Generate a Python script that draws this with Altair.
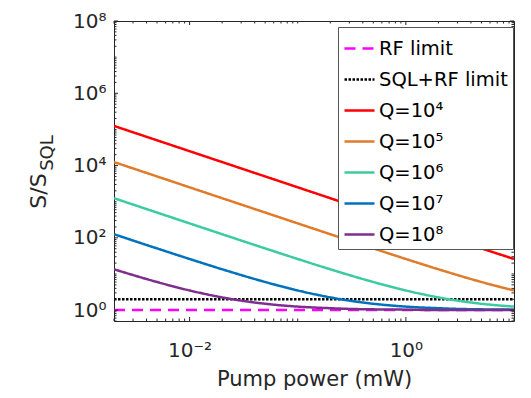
import math
import altair as alt
import pandas as pd

# ---------------- data ----------------
power_mw = [0.002, 0.003, 0.005, 0.01, 0.02, 0.03, 0.05, 0.1, 0.2, 0.3, 0.5, 1, 2, 3, 5, 10]
s_q1e4 = [125000, 83300, 50000, 25000, 12500, 8330, 5000, 2500, 1250, 834, 501, 251, 126, 84.3, 51, 26]
s_q1e5 = [12500, 8330, 5000, 2500, 1250, 834, 501, 251, 126, 84.3, 51, 26, 13.5, 9.33, 6.0, 3.5]
s_q1e6 = [1250, 834, 501, 251, 126, 84.3, 51, 26, 13.5, 9.33, 6.0, 3.5, 2.25, 1.83, 1.5, 1.25]
s_q1e7 = [126, 84.3, 51, 26, 13.5, 9.33, 6.0, 3.5, 2.25, 1.83, 1.5, 1.25, 1.13, 1.08, 1.05, 1.03]
s_q1e8 = [13.5, 9.33, 6.0, 3.5, 2.25, 1.83, 1.5, 1.25, 1.13, 1.08, 1.05, 1.03, 1.01, 1.01, 1.005, 1.003]

limit_x = [0.002, 10]
rf_limit = [1, 1]
sql_rf_limit = [2, 2]

series_names = ["RF limit", "SQL+RF limit", "Q=10⁴", "Q=10⁵", "Q=10⁶", "Q=10⁷", "Q=10⁸"]
series_colors = ["#FF00FF", "#000000", "#FF0000", "#DE7B2C", "#3CCBA0", "#0072BD", "#7E2F8E"]
series_dashes = [[11, 7], [2.5, 1.5], [1, 0], [1, 0], [1, 0], [1, 0], [1, 0]]

x_domain = [0.002, 10]
y_domain = [0.5, 1e8]
x_tick_values = [0.01, 1]
x_tick_labels = ["10⁻²", "10⁰"]
y_tick_values = [1, 1e2, 1e4, 1e6, 1e8]
y_tick_labels = ["10⁰", "10²", "10⁴", "10⁶", "10⁸"]
x_major_ticks = [0.01, 1]
x_minor_ticks = [k * 10.0 ** n for n in range(-3, 2) for k in range(1, 10)
                 if x_domain[0] <= k * 10.0 ** n <= x_domain[1] and k * 10.0 ** n not in x_major_ticks]
y_major_ticks = [1, 1e2, 1e4, 1e6, 1e8]
y_minor_ticks = [k * 10.0 ** n for n in range(-1, 9) for k in range(1, 10)
                 if y_domain[0] <= k * 10.0 ** n <= y_domain[1] and k * 10.0 ** n not in y_major_ticks]

# ---------------- tables ----------------
curve_rows = []
for name, vals in zip(series_names[2:], [s_q1e4, s_q1e5, s_q1e6, s_q1e7, s_q1e8]):
    for p, v in zip(power_mw, vals):
        curve_rows.append({"series": name, "power": p, "s": v})
curves = pd.DataFrame(curve_rows)

limit_rows = []
for name, vals in zip(series_names[:2], [rf_limit, sql_rf_limit]):
    for p, v in zip(limit_x, vals):
        limit_rows.append({"series": name, "power": p, "s": v})
limits = pd.DataFrame(limit_rows)

W, H = 400, 300
FONT = "DejaVu Sans"
AXC = "#262626"

xscale = alt.Scale(type="log", domain=x_domain, nice=False)
yscale = alt.Scale(type="log", domain=y_domain, nice=False)


def label_expr(values, labels):
    expr = "''"
    for v, l in reversed(list(zip(values, labels))):
        expr = f"(abs(log(datum.value)/LN10 - ({math.log10(v)})) < 0.01 ? '{l}' : {expr})"
    return expr


legend = alt.Legend(
    title=None, orient="none", legendX=224, legendY=6,
    symbolType="stroke", symbolSize=900, symbolStrokeWidth=2.5,
    labelFontSize=19.5, labelFont=FONT, labelColor="#000000", labelOffset=3,
    strokeColor="#555555", fillColor="#FFFFFF", padding=5, rowPadding=5,
    labelLimit=300,
)
color_enc = alt.Color("series:N", scale=alt.Scale(domain=series_names, range=series_colors), legend=legend)
dash_enc = alt.StrokeDash("series:N", scale=alt.Scale(domain=series_names, range=series_dashes), legend=legend)

x_axis = alt.Axis(
    values=x_tick_values, labelExpr=label_expr(x_tick_values, x_tick_labels),
    ticks=False, domain=False, grid=False, labelFontSize=20, labelFont=FONT, labelColor=AXC,
    labelPadding=19, title="Pump power (mW)", titleFontSize=21, titleFont=FONT,
    titleFontWeight="normal", titleColor=AXC, titlePadding=8, labelFlush=False,
)
y_axis = alt.Axis(
    values=y_tick_values, labelExpr=label_expr(y_tick_values, y_tick_labels),
    ticks=False, domain=False, grid=False, labelFontSize=20, labelFont=FONT, labelColor=AXC,
    labelPadding=8, title=None, labelFlush=False,
)

limit_layer = alt.Chart(limits).mark_line(strokeWidth=2.5, clip=True).encode(
    x=alt.X("power:Q", scale=xscale, axis=x_axis),
    y=alt.Y("s:Q", scale=yscale, axis=y_axis),
    color=color_enc, strokeDash=dash_enc, detail="series:N",
)
curve_layer = alt.Chart(curves).mark_line(strokeWidth=2.5, clip=True, interpolate="monotone").encode(
    x=alt.X("power:Q", scale=xscale, axis=x_axis),
    y=alt.Y("s:Q", scale=yscale, axis=y_axis),
    color=color_enc, strokeDash=dash_enc, detail="series:N",
)


def x_tick_layer(values, length, top):
    d = pd.DataFrame({"power": values})
    y0, y1 = (0, length) if top else (H, H - length)
    return alt.Chart(d).mark_rule(color=AXC, strokeWidth=1).encode(
        x=alt.X("power:Q", scale=xscale, axis=x_axis), y=alt.value(y0), y2=alt.value(y1))


def y_tick_layer(values, length, right):
    d = pd.DataFrame({"s": values})
    x0, x1 = (W, W - length) if right else (0, length)
    return alt.Chart(d).mark_rule(color=AXC, strokeWidth=1).encode(
        y=alt.Y("s:Q", scale=yscale, axis=y_axis), x=alt.value(x0), x2=alt.value(x1))


tick_layers = [
    x_tick_layer(x_major_ticks, 4, False), x_tick_layer(x_minor_ticks, 2.5, False),
    x_tick_layer(x_major_ticks, 4, True), x_tick_layer(x_minor_ticks, 2.5, True),
    y_tick_layer(y_major_ticks, 4, False), y_tick_layer(y_minor_ticks, 2.5, False),
    y_tick_layer(y_major_ticks, 4, True), y_tick_layer(y_minor_ticks, 2.5, True),
]

title_main = alt.Chart(pd.DataFrame({"t": ["S/S"]})).mark_text(
    angle=270, fontSize=22, font=FONT, color=AXC, align="center", baseline="middle"
).encode(text="t:N", x=alt.value(-75), y=alt.value(170))
title_sub = alt.Chart(pd.DataFrame({"t": ["SQL"]})).mark_text(
    angle=270, fontSize=18, font=FONT, color=AXC, align="center", baseline="middle"
).encode(text="t:N", x=alt.value(-66), y=alt.value(132))

chart = alt.layer(
    limit_layer, curve_layer, *tick_layers, title_main, title_sub
).properties(
    width=W, height=H,
    autosize=alt.AutoSizeParams(type="none"),
    padding={"left": 114, "top": 21, "right": 17, "bottom": 77},
    background="#FFFFFF",
).configure_view(
    stroke=AXC, strokeWidth=1
)

chart.save("out.html", embed_options={"renderer": "svg", "actions": False})
